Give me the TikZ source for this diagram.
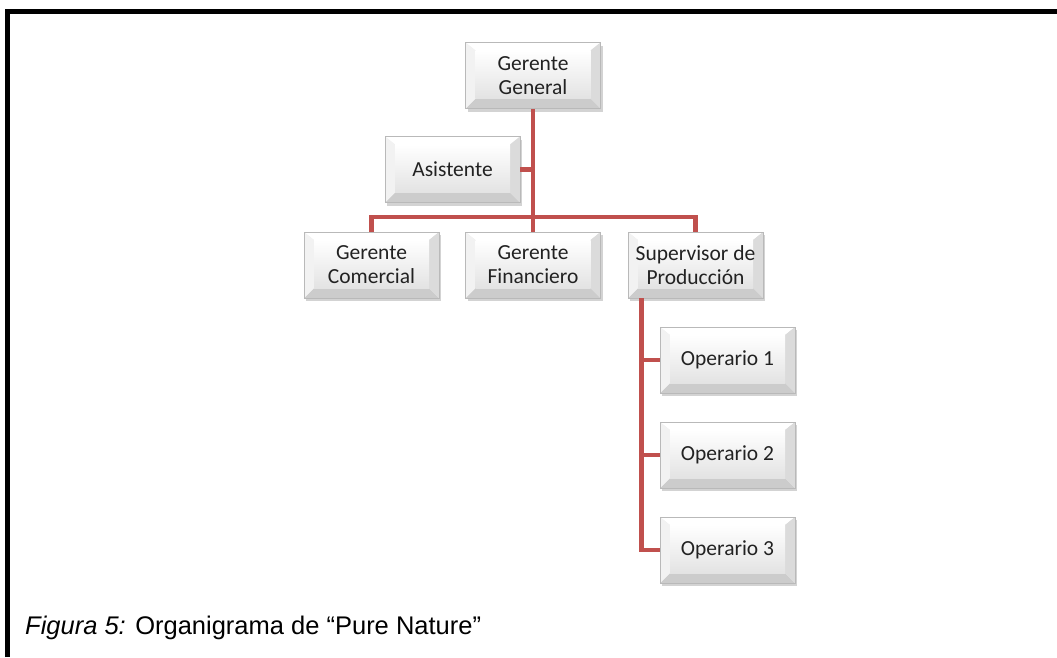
\documentclass[tikz,border=0pt]{standalone}
\usepackage{fontspec}
\setmainfont{Liberation Sans}
\newfontfamily\boxfont{Carlito}
\usetikzlibrary{shadows,calc}
\definecolor{linkred}{RGB}{192,80,77}
\definecolor{boxtext}{RGB}{34,34,34}
\tikzset{
  orgbox/.style={rectangle, minimum width=135pt, minimum height=66pt, inner sep=0pt,
    align=center, text=boxtext, font=\boxfont\fontsize{21.5}{24}\selectfont,
    fill=gray!15, draw=gray!55, line width=0.8pt,
    drop shadow={shadow xshift=2pt, shadow yshift=-3pt, opacity=0.35, fill=gray},
    path picture={
      \coordinate (pnw) at (path picture bounding box.north west);
      \coordinate (pne) at (path picture bounding box.north east);
      \coordinate (psw) at (path picture bounding box.south west);
      \coordinate (pse) at (path picture bounding box.south east);
      \fill[white] (pnw) -- (pne) -- ($(pne)+(-10pt,-8pt)$) -- ($(pnw)+(10pt,-8pt)$) -- cycle;
      \fill[gray!40] (psw) -- (pse) -- ($(pse)+(-10pt,10pt)$) -- ($(psw)+(10pt,10pt)$) -- cycle;
      \fill[gray!10] (pnw) -- (psw) -- ($(psw)+(10pt,10pt)$) -- ($(pnw)+(10pt,-8pt)$) -- cycle;
      \fill[gray!28] (pne) -- (pse) -- ($(pse)+(-10pt,10pt)$) -- ($(pne)+(-10pt,-8pt)$) -- cycle;
      \shade[top color=white, bottom color=gray!22] ($(psw)+(10pt,10pt)$) rectangle ($(pne)+(-10pt,-8pt)$);
    }},
  link/.style={draw=linkred, line width=4.5pt},
  frame/.style={draw=black, line width=5pt},
}
\begin{document}
\begin{tikzpicture}[x=1pt,y=-1pt]
\useasboundingbox (0,0) rectangle (1057,657);
\draw[frame] (7.5,657) -- (7.5,11.5) -- (1057,11.5);

\node[orgbox] (gg) at (533,75.5) {Gerente\\General};
\node[orgbox] (as) at (452.5,169.5) {Asistente};
\node[orgbox] (gc) at (371.5,265) {Gerente\\Comercial};
\node[orgbox] (gf) at (533,265) {Gerente\\Financiero};
\node[orgbox] (sp) at (695.5,265) {Supervisor de\\Producción};
\node[orgbox] (op1) at (727.5,360) {Operario 1};
\node[orgbox] (op2) at (727.5,455) {Operario 2};
\node[orgbox] (op3) at (727.5,550) {Operario 3};

\coordinate (bar) at (533,217);
\coordinate (spd) at ([xshift=14pt]sp.south west);

\draw[link] (gg.south) -- (gf.north);
\draw[link] (as.east) -- (as.east -| gg.south);
\draw[link] (gc.north) -- (gc.north |- bar) -- (sp.north |- bar) -- (sp.north);
\draw[link] (spd) -- (spd |- op3.west) -- (op3.west);
\draw[link] (spd |- op1.west) -- (op1.west);
\draw[link] (spd |- op2.west) -- (op2.west);

\node[anchor=base west, inner sep=0pt, font=\fontsize{25.5}{30}\selectfont] (cap) at (25,634)
  {\textit{Figura 5:} Organigrama de “Pure Nature”};
\end{tikzpicture}
\end{document}
